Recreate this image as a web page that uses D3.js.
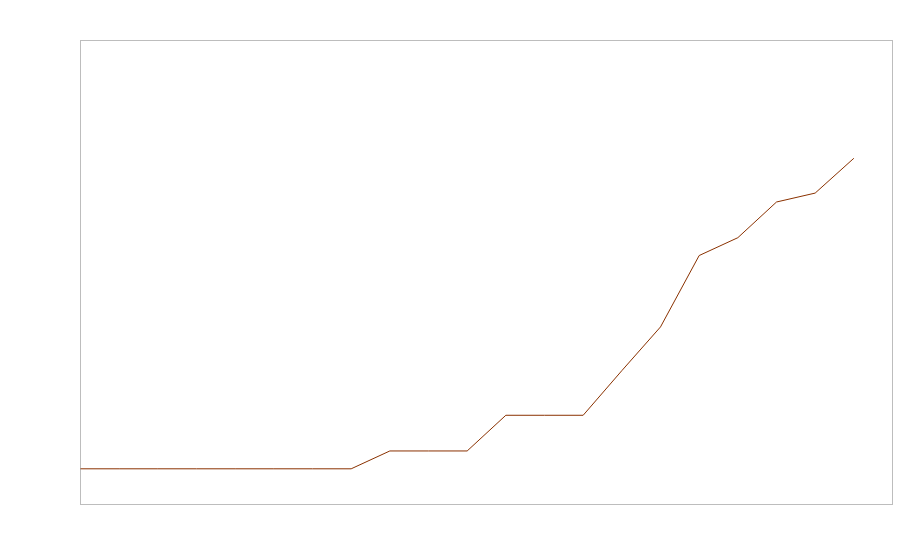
<!DOCTYPE html>
<html>
<head>
<meta charset="utf-8">
<script src="https://cdn.jsdelivr.net/npm/d3@7"></script>
<style>
  body { margin: 0; background: #fff; }
  svg { display: block; }
</style>
</head>
<body>
<svg></svg>
<script>
const width = 900;
const height = 560;

// data
const steps = d3.range(21);
const values = [2, 2, 2, 2, 2, 2, 2, 2, 3, 3, 3, 5, 5, 5, 7.5, 9.95, 13.95, 14.95, 16.95, 17.45, 19.4];
const yMax = 26;

const margin = { top: 40.5, right: 7.5, bottom: 55.5, left: 80.5 };

let svg = d3.select("svg").attr("width", width).attr("height", height);

const x = d3.scaleLinear()
    .domain([0, 21])
    .range([margin.left, width - margin.right]);

const y = d3.scaleLinear()
    .domain([0, yMax])
    .range([height - margin.bottom, margin.top]);

// frame
svg.append("rect")
    .attr("x", margin.left)
    .attr("y", margin.top)
    .attr("width", width - margin.right - margin.left)
    .attr("height", height - margin.bottom - margin.top)
    .attr("fill", "none")
    .attr("stroke", "#bdbdbd")
    .attr("stroke-width", 1);

let line = d3.line()
    .x((d, i) => x(steps[i]))
    .y((d) => y(d));

svg.append("path")
    .attr("d", line(values))
    .attr("fill", "none")
    .attr("stroke", "#8a3100")
    .attr("stroke-width", 1);
</script>
</body>
</html>
